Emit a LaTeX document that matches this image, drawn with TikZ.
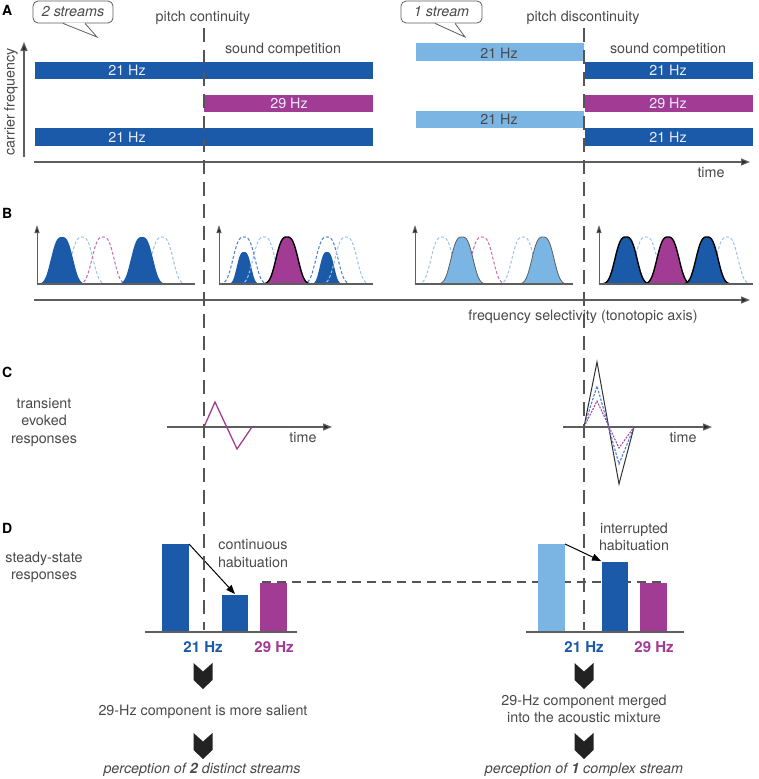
\documentclass[tikz,border=0pt]{standalone}
\usepackage{fontspec}
\setmainfont{TeX Gyre Heros}
\usetikzlibrary{arrows.meta}
\definecolor{dblue}{HTML}{1A5AA8}
\definecolor{lblue}{HTML}{7BB5E3}
\definecolor{mag}{HTML}{A23B93}
\definecolor{txt}{HTML}{4A4A4A}
\definecolor{axisc}{HTML}{5E5E5E}
\definecolor{dashl}{HTML}{9DC3EA}
\definecolor{dashm}{HTML}{C46CB4}
\definecolor{dashb}{HTML}{4A7FCF}
\definecolor{vline}{HTML}{555555}
\definecolor{chevc}{HTML}{222222}
% bell: center, height, style
\newcommand{\gk}[3]{\path[#3] plot[domain=-24:24,samples=61] ({#1+\x},{284-#2*exp(-pow(abs(\x)/13+0.0001,2.9))});}
% narrow bell
\newcommand{\gs}[3]{\path[#3] plot[domain=-18:18,samples=49] ({#1+\x},{284-#2*exp(-pow(abs(\x)/8.5+0.0001,2.9))});}
\newcommand{\chev}[2]{\fill[chevc] (#1-9.5,#2) -- (#1,#2+8.5) -- (#1+9.5,#2) -- (#1+9.5,#2+17) -- (#1,#2+26) -- (#1-9.5,#2+17) -- cycle;}
\begin{document}
\begin{tikzpicture}[x=1pt,y=-1pt,
  lbl/.style={text=txt,font=\fontsize{14.3}{17}\selectfont,inner sep=0,anchor=base},
  bartxt/.style={lbl,text=white!92!blue},
  bartxtd/.style={lbl,text=txt},
  panel/.style={font=\fontsize{14}{16}\selectfont\bfseries,inner sep=0,anchor=base west},
  hzlbl/.style={font=\fontsize{15}{17}\selectfont\bfseries,inner sep=0,anchor=base},
  callout/.style={draw=axisc,line width=0.8,fill=white,rounded corners=5,inner sep=0,text=txt,font=\fontsize{14.3}{17}\selectfont\itshape},
  callline/.style={draw=axisc,line width=0.8},
  axisline/.style={draw=axisc,line width=1.2,-{Triangle[length=9,width=7,fill=black!85]}},
  baseline/.style={draw=axisc,line width=1.2},
  smallax/.style={draw=axisc,line width=1,-{Triangle[length=8,width=5,fill=black!85]}},
  vdash/.style={draw=vline,line width=1.4,dash pattern=on 14pt off 8pt},
  hdash/.style={draw=vline,line width=1.2,dash pattern=on 9pt off 6pt},
  gdl/.style={draw=dashl,line width=1,dash pattern=on 3pt off 2pt},
  gdm/.style={draw=dashm,line width=1,dash pattern=on 3pt off 2pt},
  gdb/.style={draw=dashb,line width=1,dash pattern=on 3pt off 2pt},
  gout/.style={draw=black,line width=1.4},
  bar/.style={inner sep=0,outer sep=0,anchor=south west,minimum width=27},
  harrow/.style={draw=black,line width=1,-{Triangle[length=9,width=7]}},
]
\useasboundingbox (0,0) rectangle (759,779);
\fill[white] (0,0) rectangle (759,779);

% ---------------- Panel A ----------------
\node[panel] (pA) at (2,15) {A};
% bars
\fill[dblue] (35,62) rectangle (373,79);
\fill[mag] (204,95) rectangle (373,112);
\fill[dblue] (35,128) rectangle (373,146);
\fill[lblue] (416,43) rectangle (584,61);
\fill[dblue] (585,62) rectangle (753,79);
\fill[mag] (585,95) rectangle (753,112);
\fill[lblue] (416,111) rectangle (584,128);
\fill[dblue] (585,128) rectangle (753,146);
\node[bartxt] (t1) at (127,75) {21 Hz};
\node[bartxt] (t2) at (289,108.5) {29 Hz};
\node[bartxt] (t3) at (127,142) {21 Hz};
\node[bartxtd] (t4) at (499,58) {21 Hz};
\node[bartxt] (t5) at (668,75) {21 Hz};
\node[bartxt] (t6) at (668,108.5) {29 Hz};
\node[bartxtd] (t7) at (499,124.5) {21 Hz};
\node[bartxt] (t8) at (668,142) {21 Hz};
% axes
\draw[axisline] (24,157) -- (24,42);
\node[lbl,rotate=90,anchor=center] (cf) at (11,102) {carrier frequency};
\draw[axisline] (34,162) -- (750,162);
\node[lbl] (timeA) at (711,177) {time};
% labels
\node[lbl] (pc) at (203,21) {pitch continuity};
\node[lbl] (pd) at (583,21.5) {pitch discontinuity};
\node[lbl] (sc1) at (283,53.5) {sound competition};
\node[lbl] (sc2) at (668,53.5) {sound competition};
% callouts
\node[callout,minimum width=80,minimum height=22] (cb1) at (73,12) {2 streams};
\coordinate (tip1) at (97,37);
\fill[white] ([xshift=-9.4,yshift=0.9]cb1.south) -- (tip1) -- ([xshift=11.4,yshift=0.9]cb1.south) -- cycle;
\draw[callline] ([xshift=-10]cb1.south) -- (tip1) -- ([xshift=12]cb1.south);
\node[callout,minimum width=81,minimum height=22] (cb2) at (441.5,12) {1 stream};
\coordinate (tip2) at (465,37);
\fill[white] ([xshift=-6,yshift=0.9]cb2.south) -- (tip2) -- ([xshift=13,yshift=0.9]cb2.south) -- cycle;
\draw[callline] ([xshift=-6.5]cb2.south) -- (tip2) -- ([xshift=13.5]cb2.south);

% ---------------- Panel B ----------------
\node[panel] (pB) at (2,218) {B};
% plot 1
\gk{82}{47}{gdl}
\gk{103}{47}{gdm}
\gk{162}{47}{gdl}
\gk{62}{47}{fill=dblue}
\gk{142}{47}{fill=dblue}
% plot 2
\gs{244}{32}{fill=dblue}
\gs{327}{32}{fill=dblue}
\gk{244}{47}{gdb}
\gk{264}{47}{gdl}
\gk{327}{47}{gdb}
\gk{346}{47}{gdl}
\gk{287}{47}{fill=mag,gout}
% plot 3
\gk{442}{47}{gdl}
\gk{482}{47}{gdm}
\gk{523}{47}{gdl}
\gk{462}{47}{fill=lblue,draw=axisc,line width=0.8}
\gk{543}{47}{fill=lblue,draw=axisc,line width=0.8}
% plot 4
\gk{646}{47}{gdl}
\gk{727}{47}{gdl}
\gk{626}{47}{fill=dblue,gout}
\gk{668}{47}{fill=mag,gout}
\gk{707}{47}{fill=dblue,gout}
% small axes
\draw[baseline] (37,284) -- (195,284);
\draw[smallax] (37,284) -- (37,225);
\draw[baseline] (219,284) -- (373,284);
\draw[smallax] (219,284) -- (219,225);
\draw[baseline] (415,284) -- (573,284);
\draw[smallax] (415,284) -- (415,225);
\draw[baseline] (599,284) -- (753,284);
\draw[smallax] (599,284) -- (599,225);
\draw[axisline] (34,300) -- (750,300);
\node[lbl] (fs) at (583,320) {frequency selectivity (tonotopic axis)};

% ---------------- Panel C ----------------
\node[panel] (pC) at (2,377) {C};
\node[lbl] (tr1) at (44,408) {transient};
\node[lbl] (tr2) at (44,425.5) {evoked};
\node[lbl] (tr3) at (44,443) {responses};
\draw[axisline] (167,427) -- (332,427);
\node[lbl] (timeC1) at (303,442) {time};
\draw[axisline] (563,427) -- (712,427);
\node[lbl] (timeC2) at (683,442) {time};
\draw[mag,line width=1.3] (204,427) -- (215,402) -- (237,449) -- (252,427);
\draw[black!80,line width=1] (584,427) -- (597,362) -- (619,484) -- (634,427);
\draw[dashb,line width=1.1,dash pattern=on 2.5pt off 1.5pt] (584,427) -- (597,386) -- (619,464) -- (634,427);
\draw[mag,line width=1,dash pattern=on 2pt off 1.2pt] (584,427) -- (597,401) -- (619,448) -- (634,427);

% ---------------- Panel D ----------------
\node[panel] (pD) at (2,533) {D};
\node[lbl] (ss1) at (44,562) {steady-state};
\node[lbl] (ss2) at (44,579) {responses};
\draw[hdash] (262,582) -- (665,582);
\node[bar,fill=dblue,minimum height=88] (lb1) at (162,632) {};
\node[bar,fill=dblue,minimum height=37,minimum width=26] (lb2) at (222,632) {};
\node[bar,fill=mag,minimum height=49] (lb3) at (260,632) {};
\node[bar,fill=lblue,minimum height=88] (rb1) at (538,632) {};
\node[bar,fill=dblue,minimum height=70,minimum width=26] (rb2) at (602,632) {};
\node[bar,fill=mag,minimum height=49] (rb3) at (640,632) {};
\draw[baseline] (145,632) -- (297,632);
\draw[baseline] (526,632) -- (684,632);
\draw[harrow] (lb1.north east) -- ([yshift=1]lb2.north);
\draw[harrow] (rb1.north east) -- ([xshift=-1,yshift=1]rb2.north west);
\node[lbl] (ch1) at (253,549) {continuous};
\node[lbl] (ch2) at (253,567) {habituation};
\node[lbl] (ih1) at (634,533) {interrupted};
\node[lbl] (ih2) at (634,550.5) {habituation};
\node[hzlbl,text=dblue] (h21a) at (203,652) {21 Hz};
\node[hzlbl,text=mag] (h29a) at (274,652) {29 Hz};
\node[hzlbl,text=dblue] (h21b) at (584,652) {21 Hz};
\node[hzlbl,text=mag] (h29b) at (654,652) {29 Hz};

% vertical dashed lines
\draw[vdash] (204,28) -- (204,630);
\draw[vdash] (584,28) -- (584,630);

% conclusions
\chev{203}{663}
\chev{203}{733}
\chev{584}{663}
\chev{584}{733}
\node[lbl] (c1) at (203,715) {29-Hz component is more salient};
\node[lbl] (c2) at (584,705) {29-Hz component merged};
\node[lbl] (c3) at (584,722) {into the acoustic mixture};
\node[lbl,font=\fontsize{14.3}{17}\selectfont\itshape] (p1) at (202,773) {perception of \textbf{2} distinct streams};
\node[lbl,font=\fontsize{14.3}{17}\selectfont\itshape] (p2) at (584,773) {perception of \textbf{1} complex stream};
\end{tikzpicture}
\end{document}
